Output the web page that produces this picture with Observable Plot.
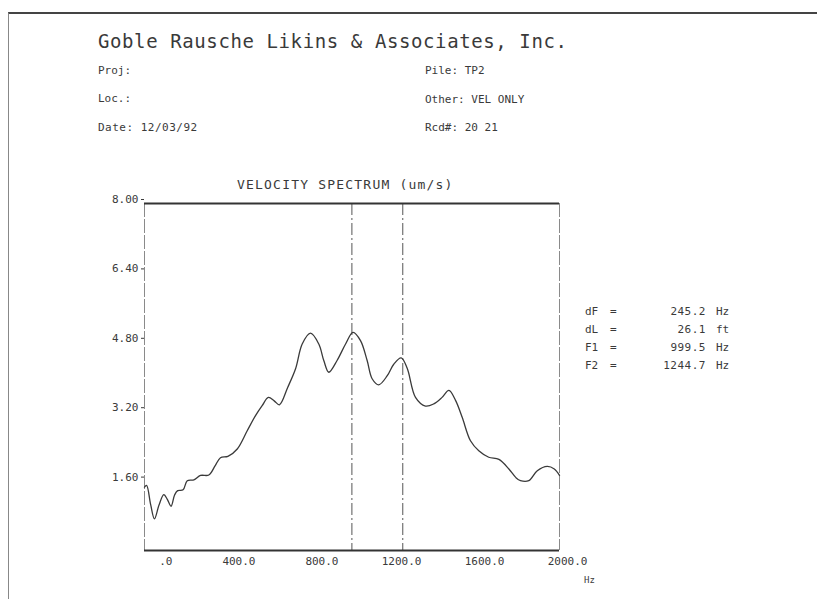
<!DOCTYPE html>
<html>
<head>
<meta charset="utf-8">
<script src="https://cdn.jsdelivr.net/npm/d3@7"></script>
<script src="https://cdn.jsdelivr.net/npm/@observablehq/plot@0.6"></script>
<style>
  html, body { margin: 0; padding: 0; background: #fff; }
  #page { position: relative; width: 817px; height: 599px; overflow: hidden; font-family: "DejaVu Sans Mono", monospace; color: #3a3a3a; }
  .t { position: absolute; white-space: pre; line-height: 1; transform: translateY(-50%); }
  #border { position: absolute; left: 8px; top: 12px; width: 820px; height: 600px; border-top: 2px solid #444; border-left: 1px solid #888; }
  #chart { position: absolute; left: 0; top: 0; }
</style>
</head>
<body>
<div id="page">
  <div id="border"></div>
  <div id="chart"></div>
  <div class="t" style="left:98px;top:41px;font-size:19px;letter-spacing:0.6px;">Goble Rausche Likins &amp; Associates, Inc.</div>
  <div class="t" style="left:98px;top:70px;font-size:11px;">Proj:</div>
  <div class="t" style="left:98px;top:98px;font-size:11px;">Loc.:</div>
  <div class="t" style="left:98px;top:127px;font-size:11px;letter-spacing:0.5px;">Date: 12/03/92</div>
  <div class="t" style="left:425px;top:70px;font-size:11px;">Pile: TP2</div>
  <div class="t" style="left:425px;top:99px;font-size:11px;">Other: VEL ONLY</div>
  <div class="t" style="left:425px;top:127px;font-size:11px;">Rcd#: 20 21</div>
  <div class="t" style="left:237px;top:184px;font-size:13px;letter-spacing:1.2px;">VELOCITY SPECTRUM (um/s)</div>
  <div id="notes"></div>
  <div class="t" style="left:584px;top:580px;font-size:9px;">Hz</div>
</div>
<script>
// ---- data ----
const freq = [0, 10, 30, 48, 70, 93, 110, 128, 145, 160, 186, 206, 238, 270, 310, 340, 366, 402, 447, 495, 535, 567, 597, 625, 650, 690, 728, 760, 800, 840, 864, 888, 928, 969, 1005, 1041, 1073, 1097, 1129, 1170, 1202, 1237, 1266, 1306, 1354, 1394, 1434, 1467, 1499, 1531, 1571, 1611, 1659, 1708, 1756, 1790, 1812, 1852, 1893, 1941, 1975, 2000];
const velocity = [1.46, 1.50, 1.05, 0.73, 1.05, 1.29, 1.18, 1.02, 1.28, 1.38, 1.40, 1.61, 1.63, 1.73, 1.74, 1.95, 2.14, 2.17, 2.34, 2.76, 3.11, 3.34, 3.53, 3.45, 3.36, 3.76, 4.19, 4.76, 5.01, 4.76, 4.38, 4.11, 4.38, 4.76, 5.03, 4.84, 4.38, 3.96, 3.82, 4.03, 4.30, 4.44, 4.20, 3.53, 3.33, 3.38, 3.53, 3.69, 3.46, 3.07, 2.53, 2.30, 2.15, 2.10, 1.88, 1.68, 1.61, 1.61, 1.84, 1.94, 1.88, 1.73];
const markerFreqs = [999.5, 1244.7];
const xTicks = [0, 400, 800, 1200, 1600, 2000];
const xTickLabels = [".0", "400.0", "800.0", "1200.0", "1600.0", "2000.0"];
const yTicks = [1.6, 3.2, 4.8, 6.4, 8.0];
const yTickLabels = ["1.60", "3.20", "4.80", "6.40", "8.00"];
const noteNames = ["dF", "dL", "F1", "F2"];
const noteValues = ["245.2", "26.1", "999.5", "1244.7"];
const noteUnits = ["Hz", "ft", "Hz", "Hz"];

const data = freq.map((f, i) => ({f, v: velocity[i]}));
const font = "DejaVu Sans Mono, monospace";

const chart = Plot.plot({
  width: 817,
  height: 599,
  marginTop: 203,
  marginBottom: 49,
  marginLeft: 144,
  marginRight: 258,
  style: {fontFamily: font, fontSize: "11px", color: "#3a3a3a", background: "transparent"},
  x: {domain: [0, 2000], axis: null},
  y: {domain: [0, 8], axis: null},
  marks: [
    Plot.ruleX([0, 2000], {stroke: "#8a8a8a", strokeWidth: 1, strokeDasharray: "14,2"}),
    Plot.ruleX(markerFreqs, {stroke: "#555", strokeWidth: 1, strokeDasharray: "12,3,2,3"}),
    Plot.ruleY([8], {stroke: "#333", strokeWidth: 2}),
    Plot.ruleY([0], {stroke: "#333", strokeWidth: 2}),
    Plot.line(data, {x: "f", y: "v", curve: "catmull-rom", stroke: "#3a3a3a", strokeWidth: 1.3}),
    Plot.axisX({ticks: xTicks, tickFormat: d => xTickLabels[xTicks.indexOf(d)], tickSize: 0, tickPadding: 7, textAnchor: "end", dx: 28, fontSize: 11, label: null}),
    Plot.axisY({ticks: yTicks, tickFormat: d => yTickLabels[yTicks.indexOf(d)], tickSize: 3, tickPadding: 3, dy: -4, fontSize: 11, label: null})
  ]
});
document.getElementById("chart").appendChild(chart);

// right-side annotation block
const notes = document.getElementById("notes");
const rowY = [311, 329, 347, 365];
noteNames.forEach((n, i) => {
  const y = rowY[i];
  notes.insertAdjacentHTML("beforeend",
    `<div class="t" style="left:585px;top:${y}px;font-size:11px;">${n}</div>` +
    `<div class="t" style="left:610px;top:${y}px;font-size:11px;">=</div>` +
    `<div class="t" style="left:640px;width:66px;text-align:right;top:${y}px;font-size:11px;letter-spacing:0.5px;">${noteValues[i]}</div>` +
    `<div class="t" style="left:716px;top:${y}px;font-size:11px;">${noteUnits[i]}</div>`);
});
</script>
</body>
</html>
